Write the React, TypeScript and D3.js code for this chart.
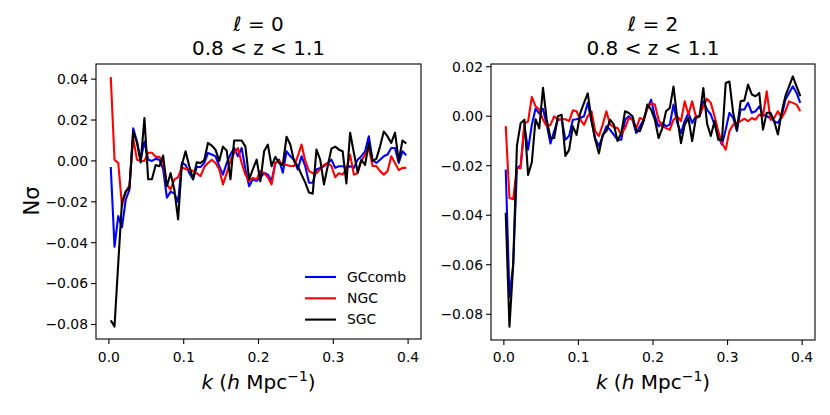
import React from 'react';
import * as d3 from 'd3';

// k bins (h/Mpc)
const kValues = [
  0.0025, 0.0075, 0.0125, 0.0175, 0.0225, 0.0275, 0.0325, 0.0375, 0.0425, 0.0475,
  0.0525, 0.0575, 0.0625, 0.0675, 0.0725, 0.0775, 0.0825, 0.0875, 0.0925, 0.0975,
  0.1025, 0.1075, 0.1125, 0.1175, 0.1225, 0.1275, 0.1325, 0.1375, 0.1425, 0.1475,
  0.1525, 0.1575, 0.1625, 0.1675, 0.1725, 0.1775, 0.1825, 0.1875, 0.1925, 0.1975,
  0.2025, 0.2075, 0.2125, 0.2175, 0.2225, 0.2275, 0.2325, 0.2375, 0.2425, 0.2475,
  0.2525, 0.2575, 0.2625, 0.2675, 0.2725, 0.2775, 0.2825, 0.2875, 0.2925, 0.2975,
  0.3025, 0.3075, 0.3125, 0.3175, 0.3225, 0.3275, 0.3325, 0.3375, 0.3425, 0.3475,
  0.3525, 0.3575, 0.3625, 0.3675, 0.3725, 0.3775, 0.3825, 0.3875, 0.3925, 0.3975,
];

// monopole (l = 0)
const gccombL0 = [
  -0.003, -0.042, -0.027, -0.0325, -0.019, -0.014, 0.016, 0.0095, 0.0006, 0.0095,
  0.0006, 0.0, 0.001, 0.0006, -0.004, -0.018, -0.015, -0.016, -0.02, -0.001,
  -0.002, -0.006, -0.009, -0.003, -0.003, -0.001, 0.0039, 0.0031, 0.0023, -0.0026,
  -0.0067, -0.001, 0.0031, 0.0063, 0.0023, 0.0063, -0.0042, -0.0124, -0.009, -0.0098,
  -0.0083, -0.0058, -0.0067, -0.0098, -0.001, 0.0006, -0.0058, 0.0047, 0.0023, 0.0006,
  -0.0042, 0.0023, -0.0026, -0.0107, -0.0107, -0.0042, -0.0034, -0.0026, -0.001, 0.0006,
  -0.0034, -0.0026, -0.0026, -0.0034, -0.0026, -0.0034, 0.0006, 0.0023, 0.0047, 0.012,
  0.0006, -0.001, 0.0006, 0.0023, 0.0031, 0.0063, 0.0063, -0.001, 0.0047, 0.0027,
];
const ngcL0 = [
  0.041, 0.0006, -0.001, -0.022, -0.015, -0.012, 0.011, 0.0006, 0.0, 0.0,
  0.004, 0.004, 0.002, 0.002, -0.001, -0.0115, -0.014, -0.009, -0.008, -0.003,
  -0.004, -0.004, -0.005, -0.006, -0.0075, -0.003, -0.001, 0.0006, -0.001, -0.004,
  -0.0115, -0.006, 0.0, 0.004, 0.0063, -0.001, -0.0067, -0.01, -0.0083, -0.009,
  -0.005, -0.006, -0.008, -0.0115, -0.001, 0.0, -0.002, -0.002, -0.0025, -0.0025,
  0.0023, 0.008, 0.0, -0.005, -0.006, -0.006, -0.004, -0.002, -0.001, -0.0025,
  -0.008, -0.006, -0.0067, -0.004, 0.003, -0.0067, -0.006, 0.0, 0.003, 0.0063,
  -0.0025, -0.0025, -0.005, -0.0067, -0.005, 0.0023, -0.001, -0.0045, -0.0034, -0.0034,
];
const sgcL0 = [
  -0.078, -0.081, -0.05, -0.02, -0.015, -0.013, 0.0144, 0.009, -0.0007, 0.021,
  -0.009, -0.009, -0.002, -0.0026, 0.0026, -0.0124, -0.006, -0.014, -0.0286, -0.002,
  0.0047, -0.0026, -0.009, -0.0007, -0.001, 0.0004, 0.0088, 0.0075, 0.0055, 0.0,
  0.007, 0.005, -0.009, 0.01, 0.01, 0.01, 0.007, -0.009, -0.004, 0.0006,
  -0.01, 0.0047, 0.008, -0.0026, 0.002, -0.001, -0.002, 0.0118, 0.008, 0.0,
  -0.0026, -0.0067, -0.0106, -0.0155, -0.016, 0.0055, 0.0006, -0.0115, -0.0026, 0.006,
  0.007, 0.0055, 0.0047, -0.011, 0.0138, 0.004, -0.0055, 0.0006, -0.002, 0.0088,
  0.0, 0.001, 0.007, 0.0144, 0.012, 0.0088, 0.0138, 0.0, 0.01, 0.0085,
];

// quadrupole (l = 2)
const gccombL2 = [
  -0.0215, -0.073, -0.06, -0.021, -0.02, -0.004, -0.0135, -0.0035, 0.0031, 0.0011,
  0.003, -0.0035, -0.011, -0.006, -0.0014, -0.0012, -0.0095, -0.008, -0.0014, -0.0012,
  -0.0007, 0.0, 0.0054, -0.002, -0.009, -0.012, -0.0082, -0.0041, -0.0055, -0.0075,
  -0.0095, -0.0095, -0.0014, 0.0, -0.0014, -0.0068, -0.0041, -0.0014, 0.0033, 0.0067,
  0.0, -0.0041, -0.0027, -0.0041, -0.0034, 0.0047, -0.0027, -0.0068, -0.002, 0.0013,
  -0.0027, 0.0, 0.0, 0.006, 0.0027, 0.0007, -0.0034, -0.0081, -0.0115, -0.0054,
  0.0014, -0.0007, -0.006, 0.0027, 0.0027, 0.0054, 0.0014, 0.002, 0.004, 0.0007,
  0.0, -0.0007, -0.002, -0.0027, 0.0, 0.0067, 0.0094, 0.0121, 0.0094, 0.0054,
];
const ngcL2 = [
  -0.004, -0.033, -0.0335, -0.021, -0.021, -0.003, -0.0021, 0.0078, 0.004, 0.0027,
  -0.0014, -0.004, -0.0035, 0.0, -0.0014, -0.0012, -0.0012, -0.002, 0.0024, 0.002,
  -0.0014, -0.0035, 0.0, 0.002, -0.006, -0.008, -0.0034, 0.002, -0.0034, -0.0044,
  -0.0048, -0.0075, -0.0048, -0.0007, -0.0014, -0.0048, -0.0007, -0.0014, 0.0033, 0.0053,
  0.0047, -0.0014, -0.0041, -0.0048, -0.0055, -0.0014, 0.0, -0.002, 0.006, 0.0007,
  0.006, 0.0, 0.0, 0.004, 0.007, 0.0054, 0.0, -0.006, -0.0108, -0.0135,
  -0.006, -0.0034, -0.0027, -0.002, -0.001, -0.002, -0.0007, -0.0014, 0.0007, 0.0,
  0.0101, -0.0014, -0.0007, 0.002, -0.0007, 0.002, 0.006, 0.0054, 0.0047, 0.002,
];
const sgcL2 = [
  -0.039, -0.085, -0.06, -0.012, -0.0028, -0.0014, -0.0237, -0.0186, -0.0012, -0.0049,
  0.0115, -0.0014, -0.0088, -0.0088, 0.0, 0.0006, -0.016, -0.0136, -0.0041, -0.0075,
  0.0014, 0.0054, 0.0092, -0.0014, -0.0095, -0.015, -0.0075, -0.006, -0.0014, -0.0034,
  -0.01, -0.0068, 0.002, 0.0013, 0.0, -0.006, -0.006, -0.002, 0.0047, 0.0027,
  -0.0014, -0.0088, -0.0048, 0.002, 0.0033, 0.012, -0.0007, -0.0109, -0.0034, -0.0007,
  -0.01, -0.0007, 0.0, 0.0114, -0.003, -0.008, -0.002, -0.0095, -0.0095, 0.0134,
  0.014, 0.0014, -0.0054, 0.006, 0.0064, 0.0128, 0.0088, 0.0081, 0.0094, -0.0054,
  0.0014, 0.0014, -0.002, -0.0074, 0.0014, 0.0081, 0.0121, 0.0161, 0.0121, 0.0081,
];

const xTicks = [0, 0.1, 0.2, 0.3, 0.4];
const yTicksL0 = [0.04, 0.02, 0, -0.02, -0.04, -0.06, -0.08];
const yTicksL2 = [0.02, 0, -0.02, -0.04, -0.06, -0.08];
const seriesNames = ['GCcomb', 'NGC', 'SGC'];
const seriesColors = ['#0000ff', '#ff0000', '#000000'];

const FONT = '"DejaVu Sans", sans-serif';
const fmt = (v: number) => d3.format('.2f')(v).replace('-', '\u2212');

interface PanelProps {
  left: number;
  right: number;
  top: number;
  bottom: number;
  ell: string;
  series: number[][];
  yDomain: [number, number];
  yTicks: number[];
  legend?: boolean;
}

const Panel: React.FC<PanelProps> = ({ left, right, top, bottom, ell, series, yDomain, yTicks, legend }) => {
  const x = d3.scaleLinear().domain([-0.01725, 0.41725]).range([left, right]);
  const y = d3.scaleLinear().domain(yDomain).range([bottom, top]);
  const line = d3.line<number>()
    .x((_, i) => x(kValues[i]))
    .y(d => y(d));
  const cx = (left + right) / 2;

  return (
    <g>
      <text x={cx} y={31} textAnchor="middle" fontSize={20} fontFamily={FONT}>
        <tspan fontStyle="italic">ℓ</tspan>
        <tspan>{` = ${ell}`}</tspan>
      </text>
      <text x={cx} y={55} textAnchor="middle" fontSize={20} fontFamily={FONT}>
        0.8 &lt; z &lt; 1.1
      </text>

      <defs>
        <clipPath id={`clip-${ell}`}>
          <rect x={left} y={top} width={right - left} height={bottom - top} />
        </clipPath>
      </defs>
      <g clipPath={`url(#clip-${ell})`}>
        {series.map((s, i) => (
          <path
            key={i}
            d={line(s) ?? ''}
            fill="none"
            stroke={seriesColors[i]}
            strokeWidth={2.1}
            strokeLinejoin="round"
          />
        ))}
      </g>

      <rect x={left} y={top} width={right - left} height={bottom - top} fill="none" stroke="#000" strokeWidth={1.1} />

      {xTicks.map(t => (
        <g key={t}>
          <line x1={x(t)} x2={x(t)} y1={bottom} y2={bottom + 5} stroke="#000" strokeWidth={1.1} />
          <text x={x(t)} y={362} textAnchor="middle" fontSize={13.9} fontFamily={FONT}>
            {t.toFixed(1)}
          </text>
        </g>
      ))}
      {yTicks.map(t => (
        <g key={t}>
          <line x1={left - 5} x2={left} y1={y(t)} y2={y(t)} stroke="#000" strokeWidth={1.1} />
          <text x={left - 8} y={y(t)} dy="0.35em" textAnchor="end" fontSize={13.9} fontFamily={FONT}>
            {fmt(t)}
          </text>
        </g>
      ))}

      <text x={cx} y={389} textAnchor="middle" fontSize={20} fontFamily={FONT}>
        <tspan fontStyle="italic">k</tspan>
        <tspan> (</tspan>
        <tspan fontStyle="italic">h</tspan>
        <tspan> Mpc</tspan>
        <tspan fontSize={14} dy={-8}>{'\u22121'}</tspan>
        <tspan dy={8}>)</tspan>
      </text>

      {legend && seriesNames.map((name, i) => (
        <g key={name}>
          <line x1={305} x2={336} y1={277 + i * 21.3} y2={277 + i * 21.3} stroke={seriesColors[i]} strokeWidth={2.1} />
          <text x={347} y={277 + i * 21.3} dy="0.35em" fontSize={13.9} fontFamily={FONT}>
            {name}
          </text>
        </g>
      ))}
    </g>
  );
};

export default function App() {
  return (
    <svg
      width={830}
      height={415}
      style={{ position: 'fixed', left: 0, top: 0, background: '#fff' }}
    >
      <rect width={830} height={415} fill="#fff" />
      <text
        transform="translate(39,201) rotate(-90)"
        textAnchor="middle"
        fontSize={21}
        fontFamily={FONT}
      >
        Nσ
      </text>
      <Panel
        left={96}
        right={421}
        top={64}
        bottom={339}
        ell="0"
        series={[gccombL0, ngcL0, sgcL0]}
        yDomain={[-0.0871, 0.0474]}
        yTicks={yTicksL0}
        legend
      />
      <Panel
        left={491}
        right={815}
        top={64}
        bottom={340}
        ell="2"
        series={[gccombL2, ngcL2, sgcL2]}
        yDomain={[-0.0904, 0.0211]}
        yTicks={yTicksL2}
      />
    </svg>
  );
}
